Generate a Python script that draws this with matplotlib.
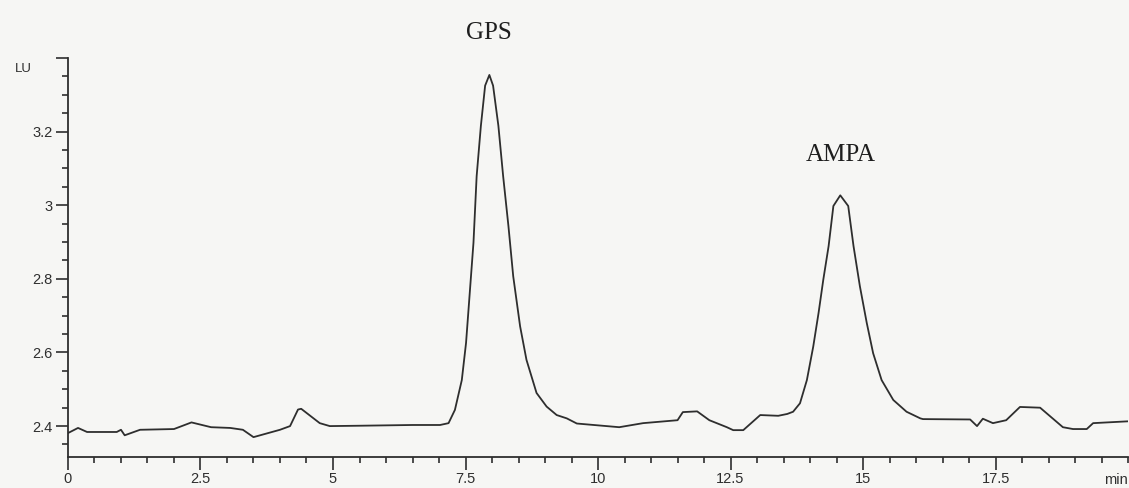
import matplotlib.pyplot as plt
from matplotlib.ticker import MultipleLocator, FixedLocator, FixedFormatter

# chromatogram trace (time in min, signal in LU)
t = [0.00, 0.19, 0.36, 0.92, 1.00, 1.07, 1.36, 2.00, 2.33, 2.70, 3.06, 3.30, 3.50,
     4.00, 4.19, 4.34, 4.40, 4.75, 4.94, 5.50, 6.50, 7.02, 7.18, 7.30, 7.43, 7.51,
     7.58, 7.65, 7.71, 7.79, 7.87, 7.95, 8.02, 8.12, 8.21, 8.31, 8.40, 8.53, 8.65,
     8.84, 9.03, 9.22, 9.41, 9.60, 10.40, 10.85, 11.50, 11.60, 11.87, 12.10, 12.43,
     12.55, 12.74, 13.06, 13.40, 13.57, 13.68, 13.81, 13.94, 14.06, 14.16, 14.25,
     14.35, 14.44, 14.57, 14.72, 14.82, 14.94, 15.07, 15.19, 15.35, 15.57, 15.82,
     16.08, 16.13, 17.02, 17.15, 17.26, 17.45, 17.70, 17.96, 18.34, 18.77, 18.96,
     19.22, 19.34, 20.00]
lu = [2.381, 2.395, 2.384, 2.384, 2.390, 2.375, 2.390, 2.392, 2.410, 2.397, 2.395,
      2.390, 2.370, 2.390, 2.400, 2.445, 2.447, 2.408, 2.400, 2.401, 2.403, 2.403,
      2.408, 2.444, 2.525, 2.626, 2.762, 2.898, 3.079, 3.216, 3.325, 3.354, 3.325,
      3.216, 3.079, 2.943, 2.807, 2.671, 2.580, 2.490, 2.453, 2.430, 2.421, 2.407,
      2.397, 2.408, 2.416, 2.438, 2.440, 2.416, 2.397, 2.389, 2.389, 2.430, 2.428,
      2.433, 2.439, 2.462, 2.525, 2.616, 2.707, 2.798, 2.889, 2.998, 3.027, 2.998,
      2.889, 2.780, 2.680, 2.598, 2.525, 2.471, 2.439, 2.421, 2.419, 2.418, 2.400,
      2.420, 2.408, 2.416, 2.452, 2.450, 2.397, 2.392, 2.392, 2.408, 2.413]

peak_names = ['GPS', 'AMPA']
peak_pos = [(7.95, 3.468), (14.57, 3.137)]

y_ticks = [2.4, 2.6, 2.8, 3.0, 3.2, 3.4]
y_labels = ['2.4', '2.6', '2.8', '3', '3.2', '']
x_ticks = [0, 2.5, 5, 7.5, 10, 12.5, 15, 17.5]
x_labels = ['0', '2.5', '5', '7.5', '10', '12.5', '15', '17.5']

ink = '#2e2e2e'
plt.rcParams['font.family'] = ['Liberation Sans', 'DejaVu Sans']

fig = plt.figure(figsize=(11.29, 4.88), dpi=100, facecolor='#f6f6f4')
ax = fig.add_axes([0.0602, 0.0635, 0.939, 0.8176])
ax.set_facecolor('#f6f6f4')

ax.plot(t, lu, color=ink, lw=1.3)

ax.set_xlim(0, 20)
ax.set_ylim(2.316, 3.4)

ax.xaxis.set_major_locator(FixedLocator(x_ticks))
ax.xaxis.set_major_formatter(FixedFormatter(x_labels))
ax.xaxis.set_minor_locator(MultipleLocator(0.5))
ax.yaxis.set_major_locator(FixedLocator(y_ticks))
ax.yaxis.set_major_formatter(FixedFormatter(y_labels))
ax.yaxis.set_minor_locator(MultipleLocator(0.05))

ax.tick_params(which='major', length=9, width=1.2, color=ink, labelcolor=ink, labelsize=10.5, pad=2)
ax.tick_params(which='minor', length=4, width=1.2, color=ink)

for s in ['top', 'right']:
    ax.spines[s].set_visible(False)
for s in ['left', 'bottom']:
    ax.spines[s].set_color(ink)
    ax.spines[s].set_linewidth(1.3)

for name, (px, py) in zip(peak_names, peak_pos):
    ax.text(px, py, name, ha='center', va='center', fontsize=18,
            family='Liberation Serif', color='#1e1e1e', clip_on=False)

ax.text(-0.042, 0.972, 'LU', transform=ax.transAxes, ha='center', va='center',
        fontsize=9.5, color=ink)
ax.text(1.0, -0.058, 'min', transform=ax.transAxes, ha='right', va='center',
        fontsize=10.5, color=ink)

fig.savefig('out.png', dpi=100, facecolor=fig.get_facecolor())
